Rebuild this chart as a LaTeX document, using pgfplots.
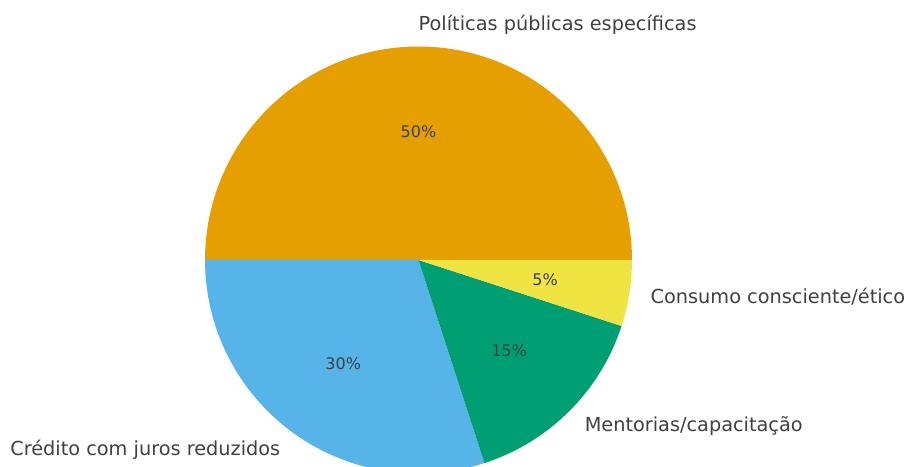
\documentclass[border=0pt]{standalone}
\usepackage{pgfplots}
\pgfplotsset{compat=1.18}
\usepackage{pgfplotstable}
\usepackage{fontspec}
\setmainfont{DejaVu Sans}
\definecolor{cOrange}{HTML}{E69F00}
\definecolor{cBlue}{HTML}{56B4E9}
\definecolor{cGreen}{HTML}{009E73}
\definecolor{cYellow}{HTML}{F0E442}
\definecolor{txt}{HTML}{404040}

\pgfplotstableread{
value
50
30
15
5
}\slices

\begin{document}
\begin{tikzpicture}
\pgfplotstablegetelem{0}{value}\of\slices \let\vA\pgfplotsretval
\pgfplotstablegetelem{1}{value}\of\slices \let\vB\pgfplotsretval
\pgfplotstablegetelem{2}{value}\of\slices \let\vC\pgfplotsretval
\pgfplotstablegetelem{3}{value}\of\slices \let\vD\pgfplotsretval
\pgfmathsetmacro\tot{\vA+\vB+\vC+\vD}
\pgfmathsetmacro\aA{0}
\pgfmathsetmacro\aB{\aA+360*(\vA/\tot)}
\pgfmathsetmacro\aC{\aB+360*(\vB/\tot)}
\pgfmathsetmacro\aD{\aC+360*(\vC/\tot)}
\pgfmathsetmacro\aE{\aD+360*(\vD/\tot)}
\pgfmathsetmacro\mA{(\aA+\aB)/2}
\pgfmathsetmacro\mB{(\aB+\aC)/2}
\pgfmathsetmacro\mC{(\aC+\aD)/2}
\pgfmathsetmacro\mD{(\aD+\aE)/2}
\def\R{213.5}
\pgfmathsetmacro\Rl{1.1*\R}
\pgfmathsetmacro\Rp{0.6*\R}
\begin{axis}[width=906bp,height=467bp,scale only axis,
  xmin=0,xmax=906,ymin=0,ymax=467,hide axis,clip=true]
\coordinate (C) at (axis cs:418.5,207);
\fill[cOrange] (C) -- ++(\aA:\R bp) arc[start angle=\aA,end angle=\aB,radius=\R bp] -- cycle;
\fill[cBlue] (C) -- ++(\aB:\R bp) arc[start angle=\aB,end angle=\aC,radius=\R bp] -- cycle;
\fill[cGreen] (C) -- ++(\aC:\R bp) arc[start angle=\aC,end angle=\aD,radius=\R bp] -- cycle;
\fill[cYellow] (C) -- ++(\aD:\R bp) arc[start angle=\aD,end angle=\aE,radius=\R bp] -- cycle;
\begin{scope}[every node/.style={inner sep=0pt,text=txt,font=\fontsize{19.3bp}{23bp}\selectfont}]
\path (C) ++(\mA:\Rl bp) node[anchor=west] {Políticas públicas específicas};
\path (C) ++(\mB:\Rl bp) node[anchor=east] {Crédito com juros reduzidos};
\path (C) ++(\mC:\Rl bp) node[anchor=west] {Mentorias/capacitação};
\path (C) ++(\mD:\Rl bp) node[anchor=west] {Consumo consciente/ético};
\end{scope}
\begin{scope}[every node/.style={inner sep=0pt,text=txt,font=\fontsize{16bp}{19bp}\selectfont}]
\path (C) ++(\mA:\Rp bp) node {50\%};
\path (C) ++(\mB:\Rp bp) node {30\%};
\path (C) ++(\mC:\Rp bp) node {15\%};
\path (C) ++(\mD:\Rp bp) node {5\%};
\end{scope}
\end{axis}
\pgfresetboundingbox
\path[use as bounding box] (current axis.south west) rectangle (current axis.north east);
\end{tikzpicture}
\end{document}
